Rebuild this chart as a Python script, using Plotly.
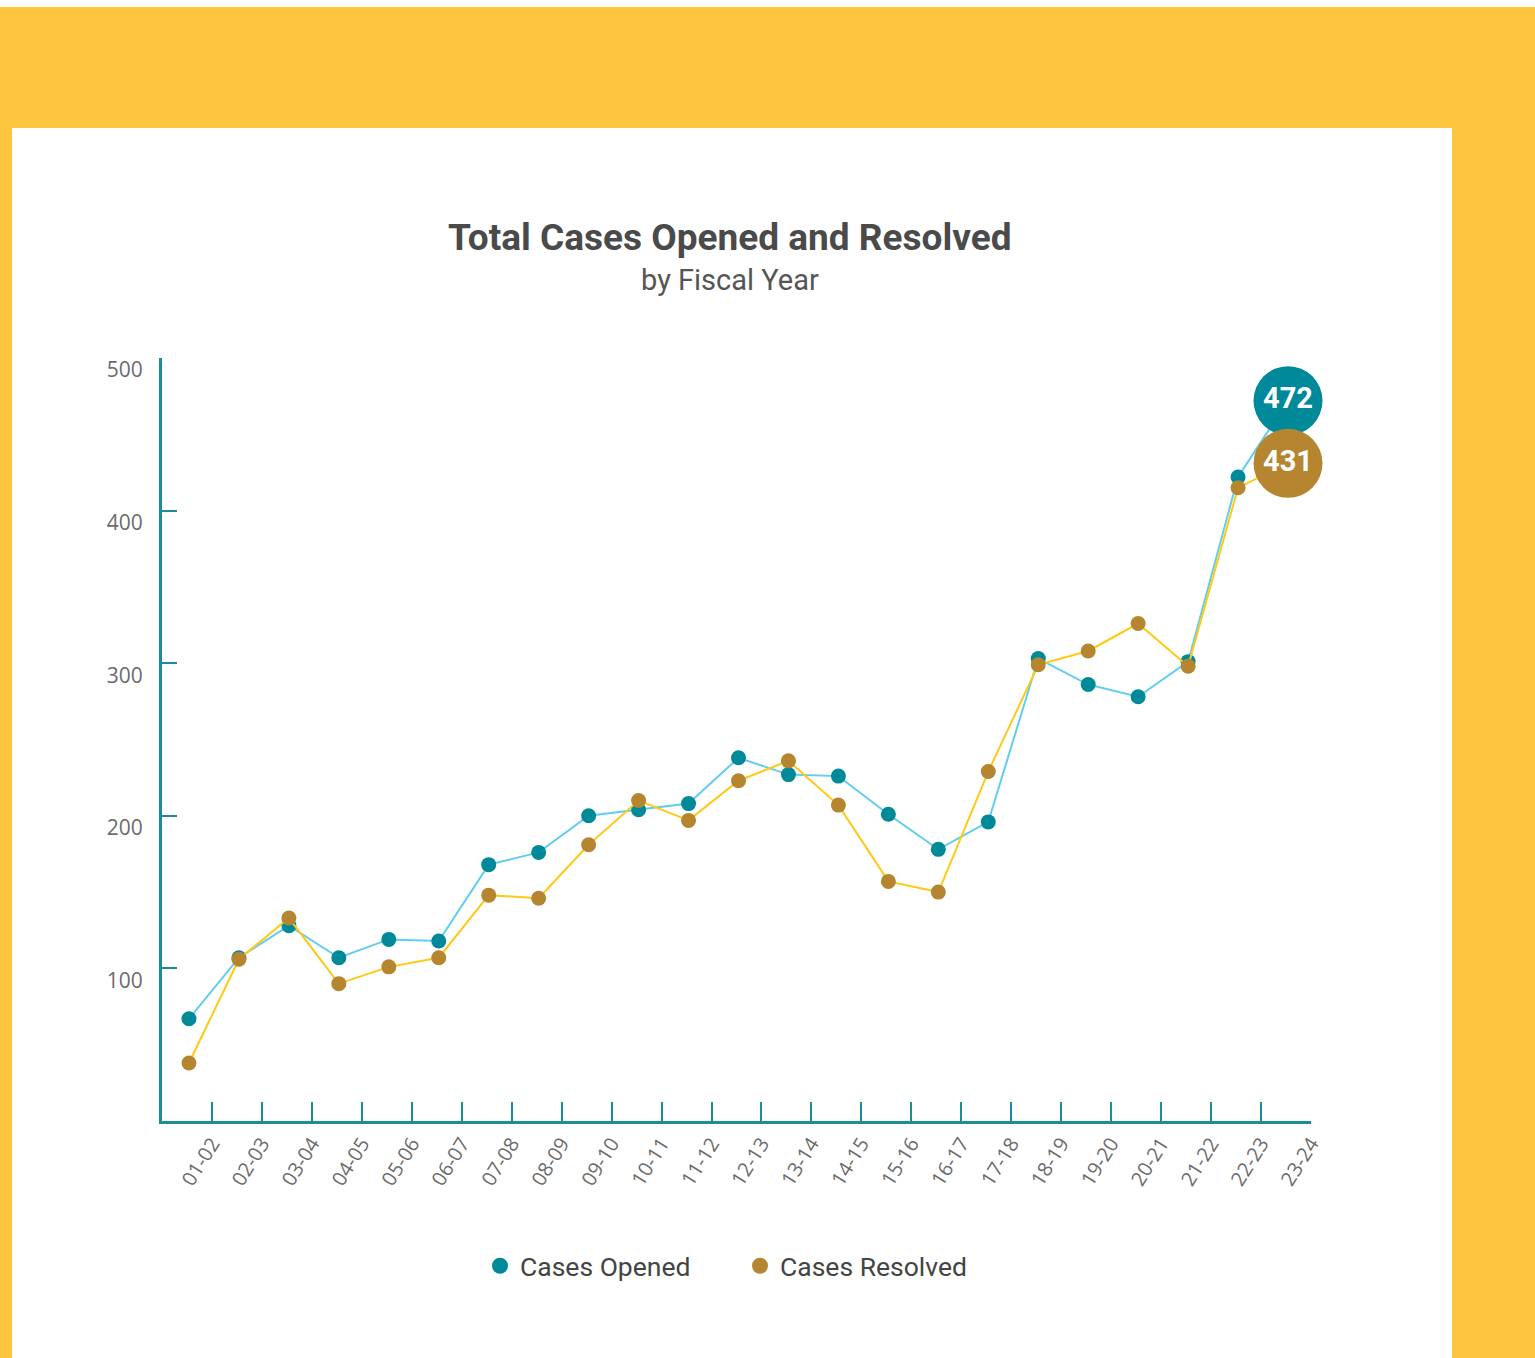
import plotly.graph_objects as go

years = ["01-02", "02-03", "03-04", "04-05", "05-06", "06-07", "07-08", "08-09",
         "09-10", "10-11", "11-12", "12-13", "13-14", "14-15", "15-16", "16-17",
         "17-18", "18-19", "19-20", "20-21", "21-22", "22-23", "23-24"]
opened = [67, 107, 128, 107, 119, 118, 168, 176, 200, 204, 208, 238, 227, 226,
          201, 178, 196, 303, 286, 278, 301, 422, 472]
resolved = [38, 106, 133, 90, 101, 107, 148, 146, 181, 210, 197, 223, 236, 207,
            157, 150, 229, 299, 308, 326, 298, 415, 431]
y_ticks = [100, 200, 300, 400, 500]

TEAL = "#008A99"
GOLD = "#B5862F"
LINE_BLUE = "#62CDEE"
LINE_YELLOW = "#FFC914"
AXIS = "#1B8C98"
YELLOW_BG = "#FEC53E"

n = len(years)
xs = list(range(n))
sizes = [15] * (n - 1) + [69]
lab_o = [""] * (n - 1) + [str(opened[-1])]
lab_r = [""] * (n - 1) + [str(resolved[-1])]

fig = go.Figure()
fig.add_trace(go.Scatter(
    x=xs, y=opened, mode="lines+markers+text", showlegend=False,
    line=dict(color=LINE_BLUE, width=2),
    marker=dict(color=TEAL, size=sizes, line=dict(width=0), opacity=1),
    text=lab_o, textposition="middle center",
    textfont=dict(family="Roboto", size=29, color="white", weight="bold"),
    cliponaxis=False, hoverinfo="skip"))
fig.add_trace(go.Scatter(
    x=xs, y=resolved, mode="lines+markers+text", showlegend=False,
    line=dict(color=LINE_YELLOW, width=2),
    marker=dict(color=GOLD, size=sizes, line=dict(width=0), opacity=1),
    text=lab_r, textposition="middle center",
    textfont=dict(family="Roboto", size=29, color="white", weight="bold"),
    cliponaxis=False, hoverinfo="skip"))
# legend-only entries
fig.add_trace(go.Scatter(x=[None], y=[None], mode="markers", name="Cases Opened",
                         marker=dict(color=TEAL, size=19)))
fig.add_trace(go.Scatter(x=[None], y=[None], mode="markers", name="Cases Resolved",
                         marker=dict(color=GOLD, size=19)))

# panel backgrounds (paper coords relative to plot area 162..1311 x 358..1121)
W, H = 1149.0, 763.0
def px(x):
    return (x - 162) / W
def py(y):
    return (1121 - y) / H

fig.add_shape(type="rect", xref="paper", yref="paper", layer="below",
              x0=px(12), x1=px(1452), y0=py(1400), y1=py(128),
              fillcolor="white", line=dict(width=0))
fig.add_shape(type="rect", xref="paper", yref="paper", layer="below",
              x0=px(-20), x1=px(1560), y0=py(7), y1=py(-20),
              fillcolor="white", line=dict(width=0))

fig.add_annotation(xref="paper", yref="paper", x=px(730), y=py(237),
                   text="<b>Total Cases Opened and Resolved</b>", showarrow=False,
                   font=dict(family="Roboto", size=37, color="#4A4A4A"),
                   xanchor="center", yanchor="middle")
fig.add_annotation(xref="paper", yref="paper", x=px(730), y=py(280),
                   text="by Fiscal Year", showarrow=False,
                   font=dict(family="Roboto", size=29, color="#555555"),
                   xanchor="center", yanchor="middle")

fig.update_layout(
    width=1535, height=1358,
    margin=dict(l=162, r=224, t=358, b=237),
    paper_bgcolor=YELLOW_BG, plot_bgcolor="white",
    showlegend=True,
    legend=dict(orientation="h", x=px(480), xanchor="left", y=py(1266), yanchor="middle",
                font=dict(family="Roboto", size=26.5, color="#444444"),
                bgcolor="rgba(0,0,0,0)", entrywidth=215, itemclick=False),
    xaxis=dict(range=[-0.54, 22.46], tickvals=[i + 0.46 for i in xs], ticktext=years,
               ticks="inside", ticklen=19, tickwidth=2, tickcolor=AXIS,
               showline=True, linecolor=AXIS, linewidth=3,
               showgrid=False, zeroline=False, tickangle=-58,
               tickfont=dict(family="Open Sans", size=20, color="#6B6B6B")),
    yaxis=dict(range=[0, 500], tickvals=y_ticks,
               ticks="inside", ticklen=15, tickwidth=2, tickcolor=AXIS,
               showline=True, linecolor=AXIS, linewidth=3,
               showgrid=False, zeroline=False, ticklabelstandoff=12,
               ticklabelshift=12,
               tickfont=dict(family="Open Sans", size=21, color="#6B6B6B")),
)

fig.write_html("out.html")
